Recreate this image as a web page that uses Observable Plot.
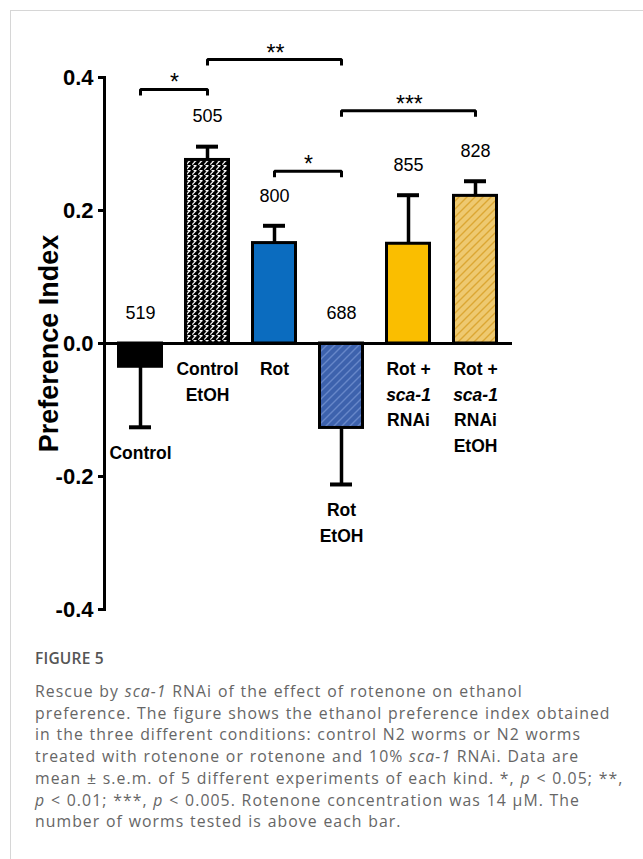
<!DOCTYPE html>
<html><head><meta charset="utf-8">
<script src="https://cdn.jsdelivr.net/npm/d3@7"></script>
<script src="https://cdn.jsdelivr.net/npm/@observablehq/plot@0.6"></script>
<style>
body{margin:0;background:#fff;width:643px;height:859px;overflow:hidden;position:relative;font-family:"Liberation Sans",Arial,sans-serif}
#frame{position:absolute;left:10px;top:10px;width:700px;height:900px;border-left:1px solid #d6d6d6;border-top:1px solid #d6d6d6;}
#chart{position:absolute;left:0;top:0}
.cap{position:absolute;left:35px;color:#5f5f5f;font-family:"Open Sans",sans-serif;white-space:nowrap}
#fig{top:647px;font-size:15.5px;font-weight:600;line-height:22px;letter-spacing:0.2px;color:#555}
#caption{top:681px;font-size:15.8px;line-height:21.7px;font-weight:400;color:#666;letter-spacing:1.05px;word-spacing:0.6px}
</style></head>
<body><div id="frame"></div><div id="chart"></div>
<div id="fig" class="cap">FIGURE 5</div>
<div id="caption" class="cap">Rescue by <i>sca-1</i> RNAi of the effect of rotenone on ethanol<br>preference. The figure shows the ethanol preference index obtained<br>in the three different conditions: control N2 worms or N2 worms<br>treated with rotenone or rotenone and 10% <i>sca-1</i> RNAi. Data are<br>mean ± s.e.m. of 5 different experiments of each kind. *, <i>p</i> &lt; 0.05; **,<br><i>p</i> &lt; 0.01; ***, <i>p</i> &lt; 0.005. Rotenone concentration was 14 μM. The<br>number of worms tested is above each bar.</div>
<script>
// ---- data ----
const categories = ["Control", "Control EtOH", "Rot", "Rot EtOH", "Rot + sca-1 RNAi", "Rot + sca-1 RNAi EtOH"];
const means = [-0.035, 0.276, 0.151, -0.127, 0.150, 0.222];
const sems = [0.091, 0.020, 0.026, 0.085, 0.073, 0.022];
const wormCounts = [519, 505, 800, 688, 855, 828];
const labelLines = [["Control"], ["Control", "EtOH"], ["Rot"], ["Rot", "EtOH"], ["Rot +", "sca-1", "RNAi"], ["Rot +", "sca-1", "RNAi", "EtOH"]];
const italicWords = ["sca-1"];
const yTicks = [-0.4, -0.2, 0, 0.2, 0.4];
const compFrom = ["Control", "Control EtOH", "Rot", "Rot EtOH"];
const compTo = ["Control EtOH", "Rot EtOH", "Rot EtOH", "Rot + sca-1 RNAi EtOH"];
const compLevel = [0.382, 0.427, 0.259, 0.350];
const compStars = ["*", "**", "*", "***"];

// ---- styles ----
const fills = ["#000000", "url(#hatchBlack)", "#0b6cbf", "url(#hatchBlue)", "#fabe00", "url(#hatchTan)"];

const data = categories.map((c, i) => ({cat: c, mean: means[i], sem: sems[i], n: wormCounts[i],
  end: means[i] + Math.sign(means[i]) * sems[i], fill: fills[i]}));
const labelRows = data.flatMap((d, i) => labelLines[i].map((t, j) => ({cat: d.cat, text: t, j, italic: italicWords.includes(t), anchor: Math.min(0, d.end)})));
const comps = compFrom.map((f, k) => ({k, from: f, to: compTo[k], level: compLevel[k], stars: compStars[k]}));
const bracketPts = comps.flatMap(c => [
  {k: c.k, x: c.from, y: c.level - 0.009}, {k: c.k, x: c.from, y: c.level},
  {k: c.k, x: c.to, y: c.level}, {k: c.k, x: c.to, y: c.level - 0.009}]);

const W = 643, H = 640, mL = 104, mR = 131, mT = 77, mB = 31;
const xOpts = {domain: categories, paddingInner: 0.31, paddingOuter: 0.16};
const xs = Plot.scale({x: {...xOpts, type: "band", range: [mL, W - mR]}});
const step = xs.step;

const labelMarks = [];
for (let j = 0; j < 4; j++) for (const it of [false, true]) {
  labelMarks.push(Plot.text(labelRows.filter(r => r.j === j && r.italic === it), {
    x: "cat", y: "anchor", text: "text", dy: 26 + 25.5 * j, fontSize: 17.5, fontWeight: "bold",
    fontStyle: it ? "italic" : "normal", lineAnchor: "middle"}));
}

const starMarks = comps.map(c => Plot.text([c], {x: "from", y: "level", text: "stars",
  dx: (categories.indexOf(c.to) - categories.indexOf(c.from)) * step / 2, dy: 1,
  lineAnchor: "bottom", fontSize: 23}));

const plot = Plot.plot({
  width: W, height: H, marginTop: mT, marginBottom: mB, marginLeft: mL, marginRight: mR,
  x: {...xOpts, axis: null},
  y: {domain: [-0.4, 0.4], axis: null},
  color: {type: "identity"},
  style: {fontFamily: "'Liberation Sans',Arial,sans-serif", background: "transparent", color: "#000"},
  marks: [
    Plot.frame({anchor: "left", strokeWidth: 3}),
    Plot.axisY({ticks: yTicks, tickFormat: d => d.toFixed(1), tickSize: 6, tickPadding: 5, strokeWidth: 3,
      fontSize: 22, fontWeight: "bold", label: null}),
    Plot.ruleX(data, {x: "cat", y1: "mean", y2: "end", strokeWidth: 3.5}),
    Plot.tickY(data, {x: "cat", y: "end", strokeWidth: 4, insetLeft: 12, insetRight: 12}),
    Plot.barY(data, {x: "cat", y: "mean", fill: "fill", stroke: "#000", strokeWidth: 3, insetLeft: 1.5, insetRight: 1.5}),
    Plot.ruleY([0], {strokeWidth: 3}),
    Plot.text(data, {x: "cat", y: d => Math.max(0, d.end), text: "n", dy: -30, fontSize: 18, lineAnchor: "middle"}),
    ...labelMarks,
    Plot.line(bracketPts, {x: "x", y: "y", z: "k", strokeWidth: 3, strokeLinejoin: "miter", strokeLinecap: "butt"}),
    ...starMarks,
    Plot.text(["Preference Index"], {frameAnchor: "left", dx: -55, rotate: -90, text: d => d,
      textAnchor: "middle", fontSize: 27, fontWeight: "bold", lineAnchor: "middle"})
  ]
});

// hatch patterns
const svg = d3.select(plot);
const defs = svg.insert("defs", ":first-child");
function hatch(id, bg, fg, w, h, d, sw) {
  const p = defs.append("pattern").attr("id", id).attr("patternUnits", "userSpaceOnUse").attr("width", w).attr("height", h);
  p.append("rect").attr("width", w).attr("height", h).attr("fill", bg);
  p.append("path").attr("d", d).attr("stroke", fg).attr("stroke-width", sw).attr("fill", "none");
}
hatch("hatchBlack", "#000", "#fff", 6, 5, "M0.3,4.6 L4.2,0.4 M1.5,0.6 H4.6", 1.1);
hatch("hatchBlue", "#3d62ad", "#6787c9", 8, 8, "M0,8 L8,0 M-2,2 L2,-2 M6,10 L10,6", 1.4);
hatch("hatchTan", "#eec970", "#dca733", 8, 8, "M0,8 L8,0 M-2,2 L2,-2 M6,10 L10,6", 1.4);

document.getElementById("chart").appendChild(plot);
</script>
</body></html>
